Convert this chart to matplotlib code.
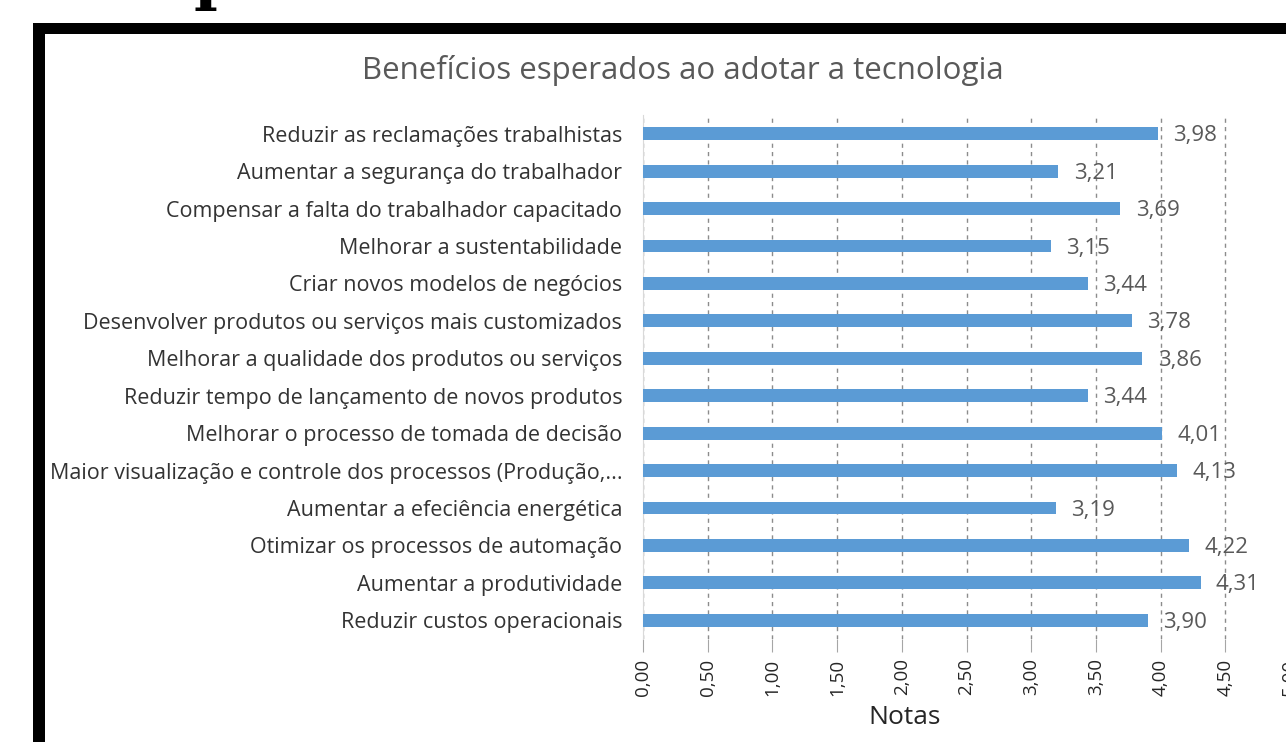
import matplotlib
matplotlib.use("Agg")
import matplotlib.pyplot as plt
from matplotlib.patches import Rectangle

categories = [
    "Reduzir as reclamações trabalhistas",
    "Aumentar a segurança do trabalhador",
    "Compensar a falta do trabalhador capacitado",
    "Melhorar a sustentabilidade",
    "Criar novos modelos de negócios",
    "Desenvolver produtos ou serviços mais customizados",
    "Melhorar a qualidade dos produtos ou serviços",
    "Reduzir tempo de lançamento de novos produtos",
    "Melhorar o processo de tomada de decisão",
    "Maior visualização e controle dos processos (Produção,...",
    "Aumentar a efeciência energética",
    "Otimizar os processos de automação",
    "Aumentar a produtividade",
    "Reduzir custos operacionais",
]
values = [3.98, 3.21, 3.69, 3.15, 3.44, 3.78, 3.86, 3.44, 4.01, 4.13, 3.19, 4.22, 4.31, 3.90]
xticks = [0, 0.5, 1.0, 1.5, 2.0, 2.5, 3.0, 3.5, 4.0, 4.5, 5.0]

W, H = 1286, 742
fig = plt.figure(figsize=(W / 100, H / 100), dpi=100)
fig.patch.set_facecolor("white")

# black frame of the screenshot
fig.patches.append(Rectangle((33 / W, 0), 12 / W, (H - 23) / H, transform=fig.transFigure,
                             facecolor="black", edgecolor="none", zorder=5))
fig.patches.append(Rectangle((33 / W, (H - 34) / H), (W - 33) / W, 11 / H, transform=fig.transFigure,
                             facecolor="black", edgecolor="none", zorder=5))
fig.text(216 / W, 1.0 + 2 / H, "p", family="DejaVu Serif", weight="bold", fontsize=46,
         ha="center", va="baseline", color="black")

ax = fig.add_axes([643 / W, 1 - 639 / H, (1290 - 643) / W, (639 - 115) / H])
ypos = list(range(len(categories)))
ax.barh(ypos, values, height=0.34, color="#5B9BD5", zorder=3)
ax.set_ylim(len(categories) - 0.5, -0.5)
ax.set_xlim(0, 5)
ax.set_yticks(ypos)
ax.set_yticklabels(categories, family="Open Sans", fontsize=15.5, color="#333333")
ax.tick_params(axis="y", length=0, pad=15)
ax.set_xticks(xticks)
ax.set_xticklabels([f"{v:.2f}".replace(".", ",") for v in xticks], rotation=90,
                   family="Open Sans", fontsize=13.5, color="#262626")
ax.tick_params(axis="x", length=9, color="#A6A6A6", direction="out", pad=5)
for s in ["top", "right", "bottom"]:
    ax.spines[s].set_visible(False)
ax.spines["left"].set_color("#D9D9D9")
ax.grid(axis="x", linestyle=(0, (3, 3)), color="#8C8C8C", linewidth=1, zorder=0)
ax.set_xlabel("Notas", family="Open Sans", fontsize=19, color="#262626", va="center")
ax.xaxis.set_label_coords((905 - 643) / (1290 - 643), -(718 - 639) / (639 - 115))

for y, v in zip(ypos, values):
    ax.annotate(f"{v:.2f}".replace(".", ","), (v, y), xytext=(11, -1.5), textcoords="offset points",
                va="center", ha="left", family="Open Sans", fontsize=16, color="#595959")

fig.text(683 / W, 1 - 70 / H, "Benefícios esperados ao adotar a tecnologia", family="Open Sans",
         fontsize=22.5, color="#595959", ha="center", va="center")

fig.savefig("out.png", dpi=100)
